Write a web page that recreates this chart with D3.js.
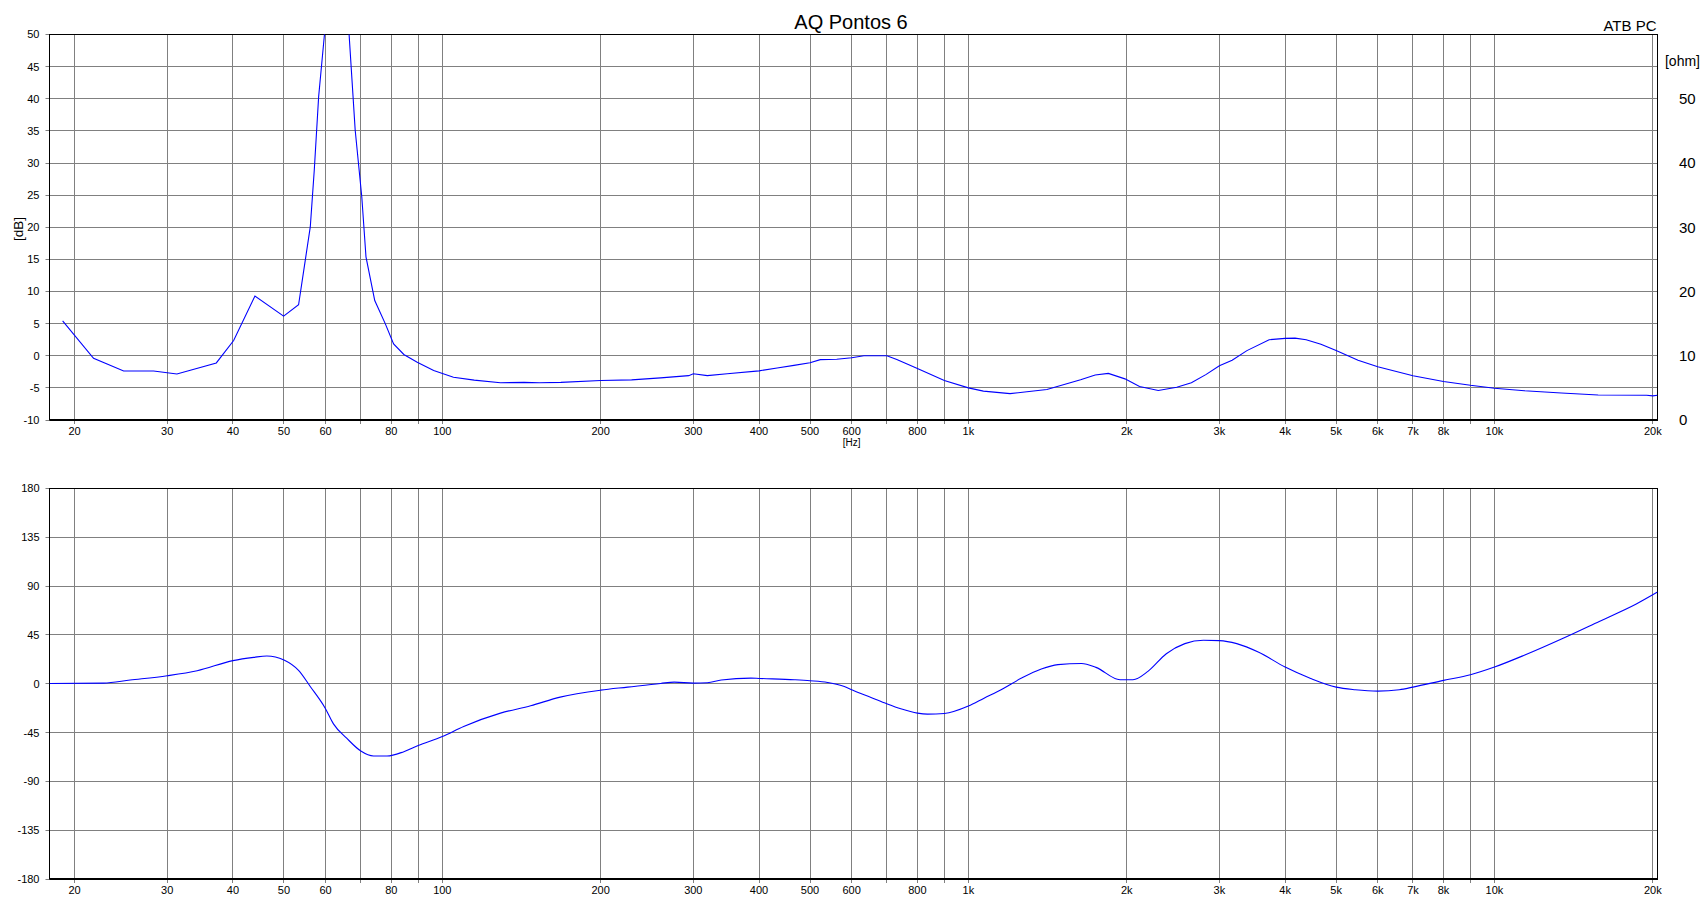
<!DOCTYPE html>
<html><head><meta charset="utf-8">
<script src="https://cdn.jsdelivr.net/npm/d3@7/dist/d3.min.js"></script>
<style>
body{margin:0;background:#fff;}
svg{display:block;}
text{font-family:"Liberation Sans",Arial,Helvetica,sans-serif;fill:#000;}
</style>
</head><body>
<svg id="chart" width="1702" height="918"></svg>
<script>
// ---- data ----
const impFreq = [18.98,21.73,24.79,28.26,31.3,37.19,40.12,44.04,49.93,53.31,54.89,56.11,57.1,58.2,59.7,62,64.5,66.5,68.3,70.3,71.6,74.4,77.9,80.8,84.5,89.6,96.3,105,115,129,143,153,168,200,229,260,294,300,319,348,400,433,466,500,523,562,600,633,700,731,800,900,1000,1068,1200,1292,1410,1634,1742,1845,1984,2115,2296,2489,2654,2832,3000,3172,3384,3730,4000,4178,4386,4679,5000,5504,6000,7000,8000,9000,10000,11400,13400,15740,19460,20000,20412];
const impOhm  = [15.43,9.61,7.63,7.63,7.17,8.88,12.37,19.28,16.16,17.93,24.85,30.05,38.9,50.3,60,95,85,60,45.1,34.7,25.4,18.6,15.0,11.85,10.2,9.0,7.7,6.65,6.2,5.8,5.85,5.8,5.85,6.15,6.25,6.55,6.9,7.2,6.9,7.2,7.65,8.1,8.5,8.9,9.4,9.45,9.7,10.0,10.0,9.4,8.0,6.15,5.0,4.5,4.1,4.4,4.75,6.25,7.0,7.25,6.4,5.2,4.6,5.1,5.8,7.1,8.45,9.3,10.8,12.5,12.7,12.75,12.5,11.8,10.8,9.3,8.3,6.9,6.0,5.4,4.95,4.55,4.2,3.9,3.85,3.75,3.85];

const phaseFreq = [17.92,22.7,25.5,30,34.2,40,43.8,46.4,50,53.3,56.1,59.9,62.1,65.8,70,74,78.5,84.5,90,100,109.8,129,147.2,167.5,200,225,260,276,300,319,339,386,400,467,500,540,581,600,653,700,744,800,836,900,1000,1071,1154,1262,1376,1480,1641,1748,1942,2055,2194,2378,2579,2797,3000,3237,3564,4000,4474,5000,5434,6000,6594,7000,8000,9000,10000,11420,13440,15820,18600,20412];
const phaseDeg  = [0.3,0.6,3.4,7.4,12.0,21.3,24.3,25.6,21.9,12.3,-2.5,-22.5,-37,-50.2,-62,-66.6,-66.6,-62.6,-57,-48.7,-39.4,-27.1,-20.3,-12.3,-5.9,-3.1,0.3,1.5,0.6,0.9,3.4,5.2,4.9,3.7,2.8,1.2,-2.5,-5.5,-12.6,-18.5,-23.1,-27.1,-28,-27.4,-20.6,-13.3,-5.5,5.2,13.6,17.6,18.7,15.1,3.7,3.7,11.4,27.7,37,40.1,39.8,37,29,15.4,4.9,-3.1,-5.5,-6.8,-5.5,-3.1,3.1,8.3,15.4,26.5,41.5,57.5,73.5,84.5];

const gridFreqs = [20,30,40,50,60,70,80,90,100,200,300,400,500,600,700,800,900,1000,2000,3000,4000,5000,6000,7000,8000,9000,10000,20000];
const freqLabels = [20,30,40,50,60,80,100,200,300,400,500,600,800,1000,2000,3000,4000,5000,6000,7000,8000,10000,20000];
const dbTicks = [50,45,40,35,30,25,20,15,10,5,0,-5,-10];
const ohmTicks = [0,10,20,30,40,50];
const phaseTicks = [180,135,90,45,0,-45,-90,-135,-180];

// ---- layout ----
const svg = d3.select('#chart');
svg.append('rect').attr('width',1702).attr('height',918).attr('fill','#fff');

const L = 49.5, R = 1657.5;
const x = d3.scaleLog().domain([17.92, 20412]).range([L, R]);
const snap = v => Math.floor(v) + 0.5;
const fmtF = f => f >= 1000 ? (f/1000) + 'k' : String(f);

const top1 = 34.5, bot1 = 420;
const top2 = 488.5, bot2 = 879;
const yDb = d3.scaleLinear().domain([-10, 50]).range([bot1, top1]);
const yOhm = d3.scaleLinear().domain([0, 60]).range([bot1, top1]);
const yPh = d3.scaleLinear().domain([-180, 180]).range([bot2, top2]);

const gridCol = '#808080';

function panel(yScale, ticks, top, bot, clipId) {
  const g = svg.append('g');
  ticks.forEach(t => {
    const yy = snap(yScale(t));
    if (yy > top + 1 && yy < bot - 1)
      g.append('line').attr('x1', L).attr('x2', R).attr('y1', yy).attr('y2', yy)
        .attr('stroke', gridCol).attr('stroke-width', 1);
    g.append('line').attr('x1', L - 4).attr('x2', L).attr('y1', yy).attr('y2', yy)
        .attr('stroke', gridCol).attr('stroke-width', 1);
  });
  gridFreqs.forEach(f => {
    const xx = snap(x(f));
    g.append('line').attr('x1', xx).attr('x2', xx).attr('y1', top).attr('y2', bot + 4)
      .attr('stroke', gridCol).attr('stroke-width', 1);
  });
  g.append('rect').attr('x', L).attr('y', top).attr('width', R - L).attr('height', bot - top)
    .attr('fill', 'none').attr('stroke', '#000').attr('stroke-width', 1);
  g.append('line').attr('x1', L).attr('x2', R + 0.5).attr('y1', bot).attr('y2', bot)
    .attr('stroke', '#000').attr('stroke-width', 2);
  svg.append('clipPath').attr('id', clipId).append('rect')
    .attr('x', L).attr('y', top).attr('width', R - L).attr('height', bot - top);
  return g;
}

panel(yDb, dbTicks, top1, bot1, 'clipTop');
panel(yPh, phaseTicks, top2, bot2, 'clipBot');

const tickFont = 11;
dbTicks.forEach(t => {
  svg.append('text').attr('x', 39.5).attr('y', yDb(t)).attr('dy', '0.36em')
    .attr('text-anchor', 'end').attr('font-size', tickFont).text(t);
});
phaseTicks.forEach(t => {
  svg.append('text').attr('x', 39.5).attr('y', yPh(t)).attr('dy', '0.36em')
    .attr('text-anchor', 'end').attr('font-size', tickFont).text(t);
});
ohmTicks.forEach(t => {
  svg.append('text').attr('x', 1679).attr('y', yOhm(t)).attr('dy', '0.36em')
    .attr('text-anchor', 'start').attr('font-size', 15).text(t);
});
svg.append('text').attr('x', 1700).attr('y', 61).attr('dy', '0.36em')
  .attr('text-anchor', 'end').attr('font-size', 14).text('[ohm]');

freqLabels.forEach(f => {
  svg.append('text').attr('x', x(f)).attr('y', 435).attr('text-anchor', 'middle')
    .attr('font-size', tickFont).text(fmtF(f));
  svg.append('text').attr('x', x(f)).attr('y', 894).attr('text-anchor', 'middle')
    .attr('font-size', tickFont).text(fmtF(f));
});
svg.append('text').attr('x', x(600)).attr('y', 446).attr('text-anchor', 'middle')
  .attr('font-size', 10).text('[Hz]');

svg.append('text').attr('x', 851).attr('y', 29).attr('text-anchor', 'middle')
  .attr('font-size', 20).text('AQ Pontos 6');
svg.append('text').attr('x', 1656.5).attr('y', 30.5).attr('text-anchor', 'end')
  .attr('font-size', 15).text('ATB PC');
svg.append('text').attr('transform', 'translate(23,229) rotate(-90)')
  .attr('text-anchor', 'middle').attr('font-size', 13.5).text('[dB]');

const imp = impFreq.map((f, i) => [f, impOhm[i]]);
const ph = phaseFreq.map((f, i) => [f, phaseDeg[i]]);

svg.append('path').datum(imp)
  .attr('clip-path', 'url(#clipTop)')
  .attr('fill', 'none').attr('stroke', '#0000ff').attr('stroke-width', 1.1)
  .attr('d', d3.line().x(d => x(d[0])).y(d => yOhm(d[1])));

svg.append('path').datum(ph)
  .attr('clip-path', 'url(#clipBot)')
  .attr('fill', 'none').attr('stroke', '#0000ff').attr('stroke-width', 1.1)
  .attr('d', d3.line().curve(d3.curveMonotoneX).x(d => x(d[0])).y(d => yPh(d[1])));
</script>
</body></html>
